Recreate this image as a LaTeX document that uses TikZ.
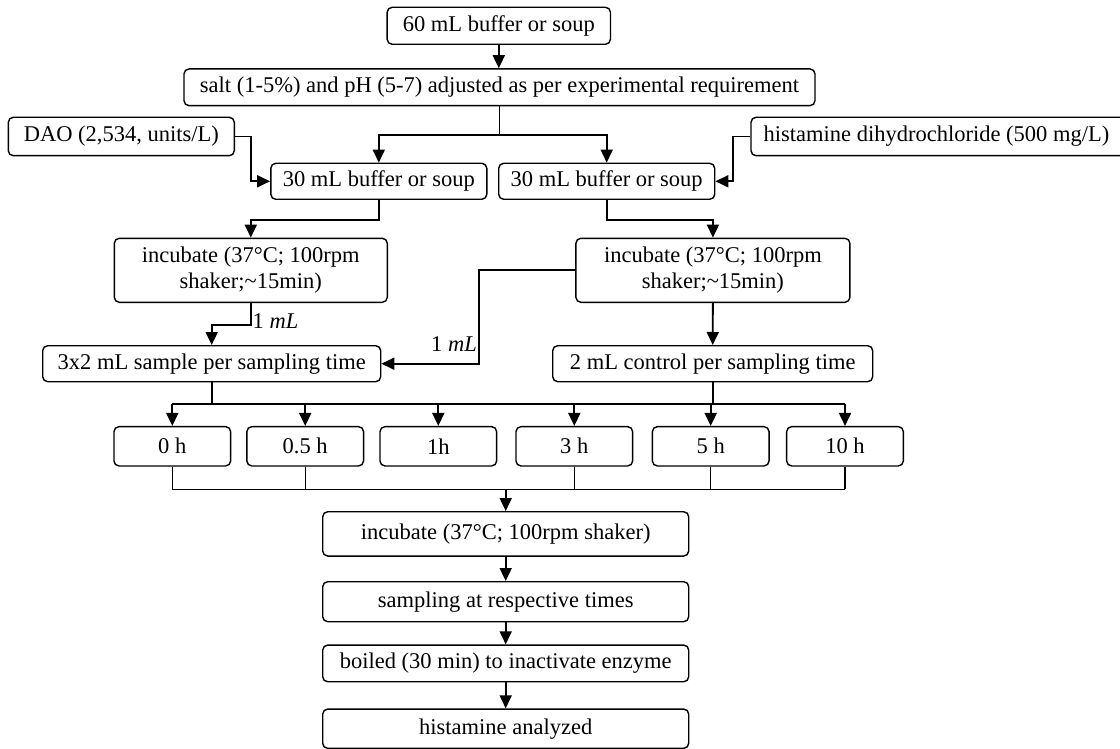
\documentclass[tikz,border=0pt]{standalone}
\usepackage{fontspec}
\setmainfont{Liberation Serif}
\usetikzlibrary{arrows.meta}
\begin{document}
\begin{tikzpicture}[x=1pt,y=-1pt,
  box/.style={draw, line width=1.4pt, rounded corners=5pt, inner sep=0pt, align=center,
    font=\fontsize{22.5}{26}\selectfont},
  conn/.style={line width=1.8pt},
  arr/.style={line width=1.8pt, -{Triangle[length=13pt,width=12pt]}},
  lbl/.style={inner sep=0pt, font=\fontsize{22.5}{26}\selectfont}]
\useasboundingbox (0,0) rectangle (1120,749);
\clip (0,0) rectangle (1120,749);
% nodes
\node[box, minimum width=223.3pt, minimum height=37pt] (top) at (498.8,25.8) {60 mL buffer or soup};
\node[box, minimum width=631pt, minimum height=36.7pt] (salt) at (499.5,87.3) {salt (1-5\%) and pH (5-7) adjusted as per experimental requirement};
\node[box, minimum width=226pt, minimum height=38.4pt] (dao) at (121.3,136.5) {DAO (2,534, units/L)};
\node[box, minimum width=374pt, minimum height=38.4pt] (hist) at (938,136.5) {\hspace*{-3pt}histamine dihydrochloride (500 mg/L)};
\node[box, minimum width=216pt, minimum height=36pt] (bufL) at (378.8,181.3) {30 mL buffer or soup};
\node[box, minimum width=216pt, minimum height=36pt] (bufR) at (606.7,181.3) {30 mL buffer or soup};
\node[box, minimum width=273pt, minimum height=64pt] (incL) at (250.8,270.3) {incubate (37°C; 100rpm\\shaker;\textasciitilde15min)};
\node[box, minimum width=274pt, minimum height=64pt] (incR) at (712.9,270.3) {incubate (37°C; 100rpm\\shaker;\textasciitilde15min)};
\node[box, minimum width=338pt, minimum height=36pt] (sample) at (211.7,363.7) {3x2 mL sample per sampling time};
\node[box, minimum width=320pt, minimum height=36pt] (ctrl) at (712.7,363.7) {2 mL control per sampling time};
\node[box, minimum width=116.7pt, minimum height=39.3pt] (t0) at (172.3,446.3) {0 h};
\node[box, minimum width=116.7pt, minimum height=39.3pt] (t05) at (305.2,446.3) {0.5 h};
\node[box, minimum width=116.7pt, minimum height=39.3pt] (t1) at (438.3,446.3) {1h};
\node[box, minimum width=116.7pt, minimum height=39.3pt] (t3) at (574.3,446.3) {3 h};
\node[box, minimum width=116.7pt, minimum height=39.3pt] (t5) at (710.7,446.3) {5 h};
\node[box, minimum width=116.7pt, minimum height=39.3pt] (t10) at (845,446.3) {10 h};
\node[box, minimum width=366pt, minimum height=44.3pt] (incF) at (505.7,533.9) {incubate (37°C; 100rpm shaker)};
\node[box, minimum width=366pt, minimum height=40pt] (samp) at (505.7,601.7) {sampling at respective times};
\node[box, minimum width=366pt, minimum height=36.7pt] (boil) at (505.7,663.4) {boiled (30 min) to inactivate enzyme};
\node[box, minimum width=366pt, minimum height=39.3pt] (hana) at (505.7,728.7) {histamine analyzed};
% helper coordinates
\coordinate (split) at (499.5,135);
\coordinate (daoK) at (250.7,136.5);
\coordinate (histK) at (733.3,136.5);
\coordinate (rk) at (479,270.3);
\coordinate (busY) at (0,404);
\coordinate (mergeY) at (0,489.3);
% connectors
\draw[arr] (top.south) -- (top.south |- salt.north);
\draw[conn] (salt.south -| split) -- (split);
\draw[arr] (split) -| (bufL.north);
\draw[arr] (split) -| (bufR.north);
\draw[arr] (dao.east) -- (daoK) |- (bufL.west);
\draw[arr] (hist.west) -- (histK) |- (bufR.east);
\draw[arr] (bufL.south) -- ++(0,20) -| (incL.north);
\draw[arr] (bufR.south) -- ++(0,20) -| (incR.north);
\draw[arr] (incL.south) -- ++(0,22) -| (sample.north);
\node[lbl, anchor=base west] (l1) at (252.5,328) {1 \textit{mL}};
\draw[arr] (incR.west) -- (rk) |- (sample.east);
\node[lbl, anchor=base east] (l2) at (477,351.7) {1 \textit{mL}};
\draw[arr] (incR.south) -- (ctrl.north);
% distribution bus
\draw[conn] (sample.south) -- (sample.south |- busY);
\draw[conn] (ctrl.south) -- (ctrl.south |- busY);
\draw[conn] (t0.north |- busY) -- (t10.north |- busY);
\foreach \t in {t0,t05,t1,t3,t5,t10} {\draw[arr] (\t.north |- busY) -- (\t.north);}
% merge bus
\foreach \t in {t0,t05,t3,t5,t10} {\draw[line width=1.3pt] (\t.south) -- (\t.south |- mergeY);}
\draw[line width=1.3pt] (t0.south |- mergeY) -- (t10.south |- mergeY);
\draw[arr] (incF.north |- mergeY) -- (incF.north);
\draw[arr] (incF.south) -- (samp.north);
\draw[arr] (samp.south) -- (boil.north);
\draw[arr] (boil.south) -- (hana.north);
\end{tikzpicture}
\end{document}
